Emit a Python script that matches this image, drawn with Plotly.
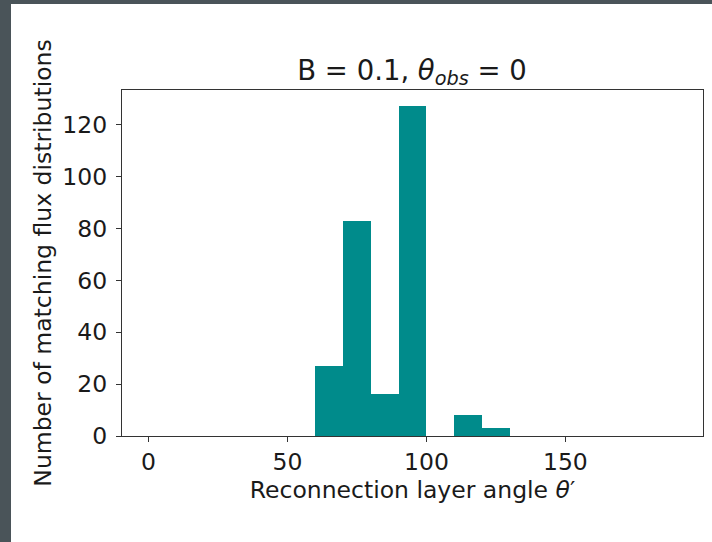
import plotly.graph_objects as go

bin_edges = [60, 70, 80, 90, 100, 110, 120, 130]
counts = [27, 83, 16, 127, 0, 8, 3]
x_ticks = [0, 50, 100, 150]
y_ticks = [0, 20, 40, 60, 80, 100, 120]

centers = [(a + b) / 2 for a, b in zip(bin_edges[:-1], bin_edges[1:])]
widths = [b - a for a, b in zip(bin_edges[:-1], bin_edges[1:])]

W, H = 712, 542
L, R, T, B = 122, 9, 90, 106
pw, ph = W - L - R, H - T - B

def px(x):
    return (x - L) / pw

def py(y):
    return (H - B - y) / ph

fig = go.Figure()
fig.add_trace(go.Bar(x=centers, y=counts, width=widths,
                     marker=dict(color="#008b8b", line=dict(width=0))))

font = dict(family="DejaVu Sans", size=23.5, color="#1a1a1a")
axis_common = dict(showline=True, linecolor="#333333", linewidth=1.2, mirror=True,
                   ticks="outside", ticklen=5, tickwidth=1.2, tickcolor="#333333",
                   showgrid=False, zeroline=False, tickfont=font)

fig.update_layout(
    width=W, height=H,
    margin=dict(l=L, r=R, t=T, b=B, autoexpand=False),
    paper_bgcolor="#4a5459", plot_bgcolor="white",
    bargap=0, showlegend=False,
    title=dict(text="B = 0.1, <i>θ</i><sub><i>obs</i></sub> = 0",
               x=412 / W, xanchor="center", y=1 - 70 / H, yanchor="middle",
               font=dict(family="DejaVu Sans", size=27.5, color="#1a1a1a")),
    xaxis=dict(range=[-9.5, 199.5], tickvals=x_ticks,
               title=dict(text="Reconnection layer angle <i>θ</i>′", font=font, standoff=2),
               **axis_common),
    yaxis=dict(range=[0, 133.35], tickvals=y_ticks, ticklabelstandoff=4,
               title=dict(text="Number of matching flux distributions", font=font, standoff=4),
               **axis_common),
    shapes=[
        dict(type="rect", xref="paper", yref="paper", x0=px(11), x1=px(W),
             y0=py(H), y1=py(4), fillcolor="white", line=dict(width=0), layer="below"),
    ],
)

fig.write_html("out.html", config={"displayModeBar": False},
               post_script="document.body.style.margin='0px';document.body.style.overflow='hidden';")
